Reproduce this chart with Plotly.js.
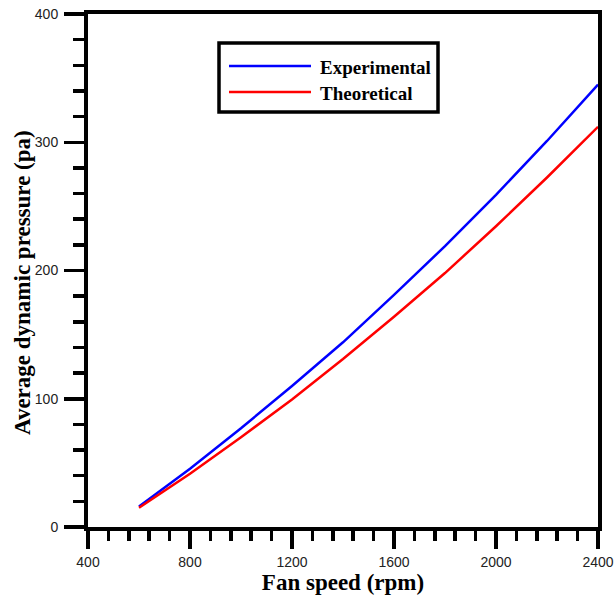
<!DOCTYPE html>
<html>
<head>
<meta charset="utf-8">
<script src="https://cdn.plot.ly/plotly-3.0.1.min.js"></script>
<style>
  html, body { margin: 0; padding: 0; background: #fff; }
  #chart { width: 614px; height: 601px; }
</style>
</head>
<body>
<div id="chart"></div>
<script>
// Fan speed (rpm) and measured / predicted average dynamic pressure (Pa)
const fanSpeed     = [600, 800, 1000, 1200, 1400, 1600, 1800, 2000, 2200, 2400];
const experimental = [16, 45.5, 77, 110, 144, 181, 219, 259, 301, 345];
const theoretical  = [15, 41.5, 70, 99.5, 131, 164, 198, 234.5, 272.5, 312];

const seriesNames  = ['Experimental', 'Theoretical'];
const seriesColors = ['#0000ff', '#ff0000'];

const xTickVals = [400, 800, 1200, 1600, 2000, 2400];
const yTickVals = [0, 100, 200, 300, 400];

const serif = 'Liberation Serif, Times New Roman, serif';
const sans  = 'Liberation Sans, Arial, sans-serif';

const traces = [experimental, theoretical].map((vals, i) => ({
  x: fanSpeed,
  y: vals,
  name: seriesNames[i],
  type: 'scatter',
  mode: 'lines',
  line: { color: seriesColors[i], width: 2.5, shape: 'linear' },
  showlegend: false
}));

// plot-area geometry in pixels, used to place the boxed key and the y title
const W = 614, H = 601, L = 88, R = 16, T = 14, B = 74;
const pw = W - L - R, ph = H - T - B;
const px = v => (v - L) / pw;
const py = v => (H - B - v) / ph;

const keyRows = [66, 92];
const shapes = [{
  type: 'rect', xref: 'paper', yref: 'paper',
  x0: px(219), x1: px(438), y0: py(112), y1: py(43),
  line: { color: '#000', width: 3.5 }, fillcolor: 'rgba(0,0,0,0)'
}];
const annotations = [];
seriesNames.forEach((name, i) => {
  shapes.push({
    type: 'line', xref: 'paper', yref: 'paper',
    x0: px(229), x1: px(311), y0: py(keyRows[i]), y1: py(keyRows[i]),
    line: { color: seriesColors[i], width: 2.5 }
  });
  annotations.push({
    xref: 'paper', yref: 'paper', x: px(318), y: py(keyRows[i] + 1),
    xanchor: 'left', yanchor: 'middle', showarrow: false,
    text: '<b>' + name + '</b>',
    font: { family: serif, size: 19, color: '#000' }
  });
});

// vertical axis title
annotations.push({
  xref: 'paper', yref: 'paper', x: px(22), y: py(283),
  xanchor: 'center', yanchor: 'middle', showarrow: false, textangle: -90,
  text: '<b>Average dynamic pressure (pa)</b>',
  font: { family: serif, size: 23, color: '#000' }
});

const axisCommon = {
  showline: true, linecolor: '#000', linewidth: 4, mirror: true,
  showgrid: false, zeroline: false,
  ticks: 'outside', tickcolor: '#000', tickwidth: 3.5,
  tickfont: { family: sans, size: 14, color: '#222' }
};

const layout = {
  width: W, height: H,
  margin: { l: L, r: R, t: T, b: B },
  paper_bgcolor: '#fff', plot_bgcolor: '#fff',
  xaxis: Object.assign({}, axisCommon, {
    range: [400, 2400], tickvals: xTickVals, ticklen: 18,
    ticklabelstandoff: 1,
    minor: { ticks: 'outside', ticklen: 10, tickwidth: 3.5, tickcolor: '#000', dtick: 80, tick0: 400 },
    title: { text: '<b>Fan speed (rpm)</b>', font: { family: serif, size: 23, color: '#000' }, standoff: 2 }
  }),
  yaxis: Object.assign({}, axisCommon, {
    range: [0, 400], tickvals: yTickVals, ticklen: 20,
    ticklabelstandoff: 3,
    minor: { ticks: 'outside', ticklen: 11, tickwidth: 3.5, tickcolor: '#000', dtick: 20, tick0: 0 }
  }),
  shapes: shapes,
  annotations: annotations
};

Plotly.newPlot('chart', traces, layout, { displayModeBar: false, staticPlot: true });
</script>
</body>
</html>
